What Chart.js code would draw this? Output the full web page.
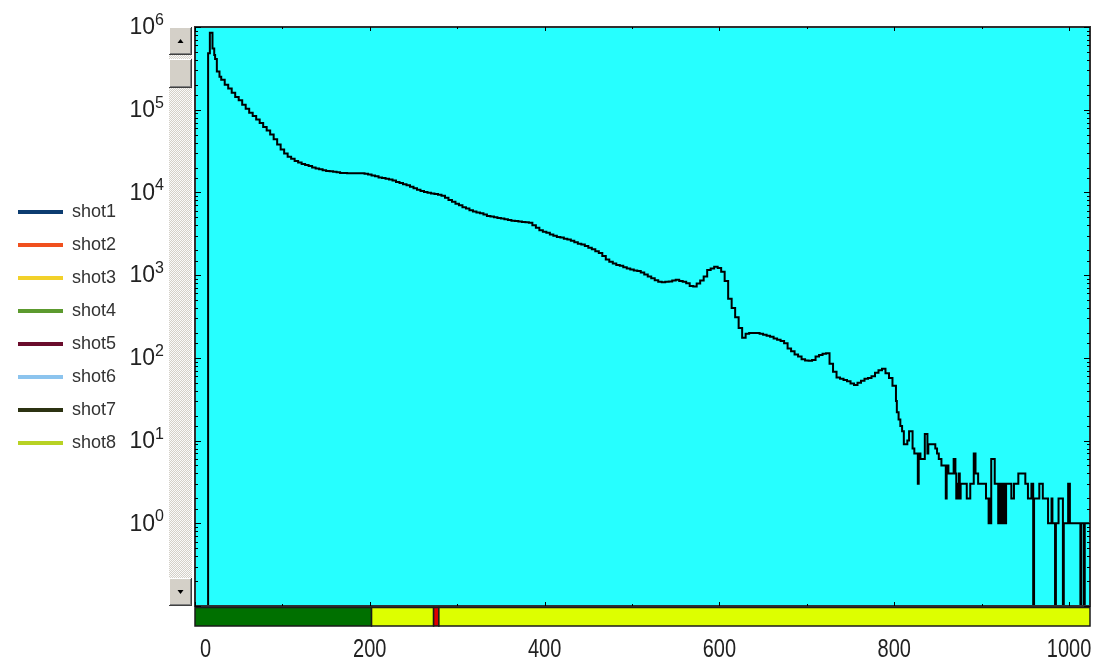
<!DOCTYPE html>
<html>
<head>
<meta charset="utf-8">
<script src="https://cdn.jsdelivr.net/npm/chart.js@4"></script>
<style>
html, body { margin: 0; padding: 0; background: #fff; }
#wrap { width: 1108px; height: 661px; }
</style>
</head>
<body>
<div id="wrap"><canvas id="spec"></canvas></div>
<script>
// legend entries
const shotNames = ['shot1', 'shot2', 'shot3', 'shot4', 'shot5', 'shot6', 'shot7', 'shot8'];
const shotColors = ['#0c3c70', '#f0501e', '#f2d12a', '#5c9a2e', '#6a0c2c', '#8cc4ee', '#2c3212', '#b8d224'];

// [channel where the bin starts, counts]
const spectrum = [
    [0, 0], [15, 4.8e5], [17, 8.5e5], [20, 5.5e5], [22, 4.6e5], [23, 4.1e5], [25, 2.9e5], [28, 2.5e5],
    [30, 2.3e5], [34, 2.0e5], [38, 1.8e5], [42, 1.6e5], [46, 1.42e5], [50, 1.3e5], [54, 1.15e5], [58, 1.03e5],
    [62, 9.2e4], [66, 8.4e4], [70, 7.6e4], [74, 6.9e4], [78, 6.2e4], [82, 5.6e4], [86, 5.0e4], [90, 4.4e4],
    [94, 3.8e4], [98, 3.3e4], [102, 2.95e4], [106, 2.7e4], [110, 2.55e4], [114, 2.4e4], [118, 2.3e4], [122, 2.2e4],
    [126, 2.15e4], [130, 2.08e4], [134, 2.0e4], [138, 1.95e4], [142, 1.9e4], [146, 1.86e4], [150, 1.82e4], [154, 1.8e4],
    [158, 1.78e4], [162, 1.75e4], [166, 1.72e4], [170, 1.72e4], [174, 1.7e4], [178, 1.7e4], [182, 1.71e4], [186, 1.7e4],
    [190, 1.7e4], [194, 1.68e4], [198, 1.65e4], [202, 1.6e4], [206, 1.57e4], [210, 1.52e4], [214, 1.49e4], [218, 1.46e4],
    [222, 1.43e4], [226, 1.39e4], [230, 1.34e4], [234, 1.3e4], [238, 1.26e4], [242, 1.22e4], [246, 1.17e4], [250, 1.12e4],
    [254, 1.08e4], [258, 1.04e4], [262, 1.01e4], [266, 9900], [270, 9700], [274, 9600], [278, 9400], [282, 9100],
    [286, 8600], [290, 8100], [294, 7700], [298, 7300], [302, 7000], [306, 6600], [310, 6400], [314, 6100],
    [318, 5900], [322, 5700], [326, 5600], [330, 5400], [334, 5200], [338, 5100], [342, 5000], [346, 4900],
    [350, 4850], [354, 4750], [358, 4650], [362, 4550], [366, 4500], [370, 4450], [374, 4400], [378, 4350],
    [382, 4300], [386, 4000], [390, 3750], [394, 3500], [398, 3350], [402, 3250], [406, 3100], [410, 3000],
    [414, 2900], [418, 2850], [422, 2750], [426, 2700], [430, 2600], [434, 2500], [438, 2400], [442, 2350],
    [446, 2250], [450, 2150], [454, 2050], [458, 1950], [462, 1850], [466, 1700], [470, 1550], [474, 1450],
    [478, 1380], [482, 1330], [486, 1300], [490, 1250], [494, 1200], [498, 1170], [502, 1140], [506, 1120],
    [510, 1080], [514, 1020], [518, 960], [522, 920], [526, 870], [530, 830], [534, 820], [538, 830],
    [542, 840], [546, 860], [550, 880], [554, 850], [558, 830], [562, 800], [566, 740], [570, 730],
    [574, 790], [578, 860], [582, 960], [586, 1150], [590, 1200], [594, 1260], [598, 1220], [602, 1100],
    [606, 850], [610, 520], [614, 400], [618, 310], [622, 230], [626, 175], [630, 195], [634, 200],
    [638, 200], [642, 200], [646, 195], [650, 190], [654, 185], [658, 180], [662, 172], [666, 165],
    [670, 160], [674, 150], [678, 130], [682, 120], [686, 110], [690, 104], [694, 96], [698, 93],
    [702, 92], [706, 94], [710, 104], [714, 108], [718, 112], [722, 114], [726, 85], [730, 68],
    [734, 58], [738, 56], [742, 54], [746, 52], [750, 49], [754, 47], [758, 50], [762, 53],
    [766, 56], [770, 57], [774, 60], [778, 66], [782, 71], [786, 74], [790, 65], [794, 57],
    [798, 46], [802, 30], [803, 22], [805, 18], [807, 15], [809, 13], [811, 9], [813, 9],
    [815, 10], [817, 13], [819, 13], [821, 8], [823, 7], [825, 7], [827, 3], [828, 7],
    [830, 6], [832, 6], [835, 12], [838, 7], [839, 9], [843, 9], [847, 8], [849, 7],
    [851, 6], [854, 5], [859, 2], [860, 5], [862, 4], [868, 6], [870, 4], [871, 2],
    [872, 3], [873, 2], [874, 4], [875, 2], [876, 3], [883, 2], [887, 3], [891, 7],
    [893, 4], [896, 3], [905, 2], [908, 1], [909, 2], [910, 1], [911, 6], [915, 3],
    [919, 1], [920, 3], [921, 1], [922, 3], [923, 2], [924, 1], [925, 3], [926, 2],
    [927, 1], [928, 3], [934, 2], [937, 3], [942, 4], [950, 3], [953, 2], [957, 3],
    [959, 0], [960, 2], [966, 3], [970, 2], [976, 1], [980, 2], [981, 1], [984, 0],
    [985, 1], [988, 2], [993, 0], [994, 1], [999, 3], [1001, 1], [1013, 0], [1014, 1],
    [1017, 0], [1018, 1], [1024, 1]
];

// axis labels
const xTicks = [0, 200, 400, 600, 800, 1000];
const yExponents = [0, 1, 2, 3, 4, 5, 6];
const xMin = 0, xMax = 1024, yMin = 0.1, yMax = 1e6;

// region strip under the plot (channel edges)
const roiEdges = [0, 202, 273, 279, 1024];
const roiColors = ['#007000', '#ddff00', '#e00000', '#ddff00'];

const datasets = shotNames.map((name, i) => ({
    label: name,
    data: [],
    borderColor: shotColors[i],
    backgroundColor: shotColors[i],
    borderWidth: 0
}));
datasets.push({
    label: 'spectrum',
    // empty channels sit on the axis floor
    data: spectrum.map(p => ({ x: p[0], y: p[1] > 0 ? p[1] : yMin })),
    borderColor: '#000',
    borderWidth: 2,
    stepped: true,
    pointRadius: 0,
    fill: false
});

function bevel(ctx, x, y, w, h) {
    ctx.fillStyle = '#d4d0c8';
    ctx.fillRect(x, y, w, h);
    ctx.fillStyle = '#ffffff';
    ctx.fillRect(x, y, w - 1, 1);
    ctx.fillRect(x, y, 1, h - 1);
    ctx.fillStyle = '#808080';
    ctx.fillRect(x + 1, y + h - 2, w - 2, 1);
    ctx.fillRect(x + w - 2, y + 1, 1, h - 2);
    ctx.fillStyle = '#404040';
    ctx.fillRect(x, y + h - 1, w, 1);
    ctx.fillRect(x + w - 1, y, 1, h);
}

function arrow(ctx, cx, cy, up) {
    ctx.fillStyle = '#000';
    ctx.beginPath();
    if (up) {
        ctx.moveTo(cx - 3, cy + 2); ctx.lineTo(cx + 3, cy + 2); ctx.lineTo(cx, cy - 2);
    } else {
        ctx.moveTo(cx - 3, cy - 2); ctx.lineTo(cx + 3, cy - 2); ctx.lineTo(cx, cy + 2);
    }
    ctx.closePath();
    ctx.fill();
}

function scrollbar(ctx, x, top, w, bottom) {
    const pc = document.createElement('canvas');
    pc.width = 2; pc.height = 2;
    const p = pc.getContext('2d');
    p.fillStyle = '#d4d0c8'; p.fillRect(0, 0, 2, 2);
    p.fillStyle = '#fafafa'; p.fillRect(0, 0, 1, 1); p.fillRect(1, 1, 1, 1);
    ctx.fillStyle = ctx.createPattern(pc, 'repeat');
    ctx.fillRect(x, top, w, bottom - top);
    bevel(ctx, x, top, w, 28);
    arrow(ctx, x + w / 2, top + 14, true);
    bevel(ctx, x, top + 32, w, 29);
    bevel(ctx, x, bottom - 28, w, 28);
    arrow(ctx, x + w / 2, bottom - 14, false);
}

const decor = {
    id: 'decor',
    beforeDraw(chart) {
        const { ctx, chartArea: a } = chart;
        ctx.save();
        ctx.fillStyle = '#fff';
        ctx.fillRect(0, 0, chart.width, chart.height);
        ctx.fillStyle = '#26ffff';
        ctx.fillRect(a.left, a.top, a.right - a.left, a.bottom - a.top);
        scrollbar(ctx, a.left - 26, a.top, 23, a.bottom);
        ctx.restore();
    },
    afterDatasetsDraw(chart) {
        const { ctx, chartArea: a } = chart;
        const xs = chart.scales.x, ys = chart.scales.y;
        ctx.save();

        // frame
        ctx.strokeStyle = '#303030';
        ctx.lineWidth = 2;
        ctx.strokeRect(a.left, a.top, a.right - a.left, a.bottom - a.top);

        // inner tick marks
        ctx.strokeStyle = '#000';
        ctx.lineWidth = 1;
        ctx.beginPath();
        ys.ticks.forEach(t => {
            const lg = Math.log10(t.value);
            const len = Math.abs(lg - Math.round(lg)) < 1e-6 ? 6 : 3;
            const py = Math.round(ys.getPixelForValue(t.value)) + 0.5;
            ctx.moveTo(a.left, py); ctx.lineTo(a.left + len, py);
            ctx.moveTo(a.right - len, py); ctx.lineTo(a.right, py);
        });
        xs.ticks.forEach(t => {
            const len = t.value % 200 === 0 ? 4 : 2;
            const px = Math.round(xs.getPixelForValue(t.value)) + 0.5;
            ctx.moveTo(px, a.bottom); ctx.lineTo(px, a.bottom - len);
            ctx.moveTo(px, a.top); ctx.lineTo(px, a.top + len);
        });
        ctx.stroke();

        // region strip
        const top = a.bottom + 1.5, h = 18.5;
        ctx.lineWidth = 1.5;
        ctx.strokeStyle = '#1a1a1a';
        for (let i = 0; i < roiColors.length; i++) {
            const x0 = xs.getPixelForValue(roiEdges[i]);
            const x1 = xs.getPixelForValue(roiEdges[i + 1]);
            ctx.fillStyle = roiColors[i];
            ctx.fillRect(x0, top, x1 - x0, h);
            ctx.strokeRect(x0, top, x1 - x0, h);
        }

        // y labels 10^n
        ctx.fillStyle = '#222';
        yExponents.forEach(e => {
            const py = ys.getPixelForValue(Math.pow(10, e));
            ctx.font = '23px "Liberation Sans", Arial, sans-serif';
            ctx.textAlign = 'right';
            ctx.textBaseline = 'middle';
            ctx.fillText('10', 155, py + 1);
            ctx.font = '16px "Liberation Sans", Arial, sans-serif';
            ctx.textAlign = 'left';
            ctx.textBaseline = 'alphabetic';
            ctx.fillText(String(e), 155, py - 2);
        });

        // x labels, narrow face (squeezed horizontally)
        const squeeze = 0.8;
        ctx.font = '25px "Liberation Sans", Arial, sans-serif';
        ctx.textAlign = 'center';
        ctx.textBaseline = 'middle';
        xTicks.forEach(v => {
            const s = String(v);
            const w = ctx.measureText(s).width * squeeze;
            const cx = Math.max(xs.getPixelForValue(v), a.left + w / 2 + 5);
            ctx.save();
            ctx.translate(cx, 650);
            ctx.scale(squeeze, 1);
            ctx.fillText(s, 0, 0);
            ctx.restore();
        });
        ctx.restore();
    }
};

const chart = new Chart(document.getElementById('spec'), {
    type: 'line',
    data: { datasets: datasets },
    options: {
        responsive: true,
        maintainAspectRatio: false,
        animation: false,
        devicePixelRatio: 1,
        layout: { padding: { left: 3, top: 27, right: 18, bottom: 33 } },
        plugins: {
            legend: {
                position: 'left',
                labels: {
                    filter: item => item.datasetIndex < shotNames.length,
                    boxWidth: 45,
                    boxHeight: 4,
                    padding: 15,
                    color: '#333',
                    font: { family: '"Liberation Sans", Arial, sans-serif', size: 18 }
                }
            },
            tooltip: { enabled: false }
        },
        scales: {
            x: {
                type: 'linear',
                min: xMin,
                max: xMax,
                grid: { display: false },
                border: { display: false },
                ticks: { display: false, stepSize: 100, includeBounds: false },
                afterFit: s => { s.height = 22; }
            },
            y: {
                type: 'logarithmic',
                min: yMin,
                max: yMax,
                grid: { display: false },
                border: { display: false },
                ticks: { display: false },
                afterFit: s => { s.width = 195 - 3 - (s.chart.legend ? s.chart.legend.width : 0); }
            }
        }
    },
    plugins: [decor]
});
</script>
</body>
</html>
